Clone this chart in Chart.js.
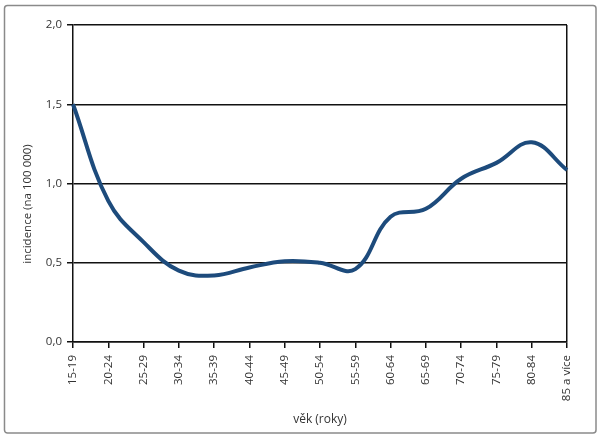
<!DOCTYPE html>
<html>
<head>
<meta charset="utf-8">
<script src="https://cdn.jsdelivr.net/npm/chart.js@4.4.1/dist/chart.umd.min.js"></script>
<style>
html,body{margin:0;padding:0;background:#fff;}
#wrap{width:600px;height:437px;position:relative;}
</style>
</head>
<body>
<div id="wrap"><canvas id="c" width="600" height="437"></canvas></div>
<script>
const categories = ["15-19","20-24","25-29","30-34","35-39","40-44","45-49","50-54","55-59","60-64","65-69","70-74","75-79","80-84","85 a více"];
const incidence = [1.50, 0.89, 0.63, 0.45, 0.42, 0.47, 0.51, 0.50, 0.46, 0.79, 0.84, 1.03, 1.13, 1.26, 1.085];
const yTicks = [0, 0.5, 1.0, 1.5, 2.0];
const xTitle = "věk (roky)";
const yTitle = "incidence (na 100 000)";

const frame = {
  id: 'frame',
  beforeDraw(chart) {
    const ctx = chart.ctx;
    ctx.save();
    ctx.fillStyle = '#fff';
    ctx.fillRect(0, 0, chart.width, chart.height);
    ctx.strokeStyle = '#8a8a8a';
    ctx.lineWidth = 1.5;
    ctx.beginPath();
    ctx.roundRect(4.5, 5.5, 591.5, 427.5, 3);
    ctx.stroke();
    ctx.restore();
  },
  afterDraw(chart) {
    const ctx = chart.ctx;
    ctx.save();
    ctx.translate(28, 204);
    ctx.rotate(-Math.PI / 2);
    ctx.fillStyle = '#333';
    ctx.font = "11.5px 'Open Sans', sans-serif";
    ctx.textAlign = 'center';
    ctx.textBaseline = 'middle';
    ctx.fillText(yTitle, 0, 0);
    ctx.restore();
  }
};

const font = {family: "'Open Sans', sans-serif", size: 11.5};

new Chart(document.getElementById('c'), {
  type: 'line',
  data: {
    labels: categories,
    datasets: [{
      data: incidence,
      borderColor: '#1d4b7c',
      borderWidth: 4,
      pointRadius: 0,
      tension: 0.4,
      fill: false,
      clip: false
    }]
  },
  options: {
    responsive: false,
    animation: false,
    layout: {padding: {left: 0, right: 33, top: 25, bottom: 0}},
    plugins: {legend: {display: false}, tooltip: {enabled: false}},
    scales: {
      x: {
        offset: false,
        grid: {
          color: (c) => c.index === categories.length - 1 ? '#111' : 'rgba(0,0,0,0)',
          tickColor: '#111',
          tickLength: 6,
          lineWidth: 1.5
        },
        border: {display: true, color: '#111', width: 1.5},
        ticks: {
          autoSkip: false,
          minRotation: 90,
          maxRotation: 90,
          padding: 7,
          color: '#333',
          font: font
        },
        title: {
          display: true,
          text: xTitle,
          color: '#333',
          font: {family: "'Open Sans', sans-serif", size: 12},
          padding: {top: 0, bottom: 10}
        },
        afterFit(s) { s.height = 95; }
      },
      y: {
        min: 0,
        max: 2,
        afterBuildTicks(s) { s.ticks = yTicks.map(v => ({value: v})); },
        grid: {
          color: '#111',
          tickColor: '#111',
          tickLength: 6,
          lineWidth: 1.5
        },
        border: {display: true, color: '#111', width: 1.5},
        ticks: {
          padding: 5,
          color: '#333',
          font: font,
          callback: (v) => Number(v).toFixed(1).replace('.', ',')
        },
        afterFit(s) { s.width = 73; }
      }
    }
  },
  plugins: [frame]
});
</script>
</body>
</html>
